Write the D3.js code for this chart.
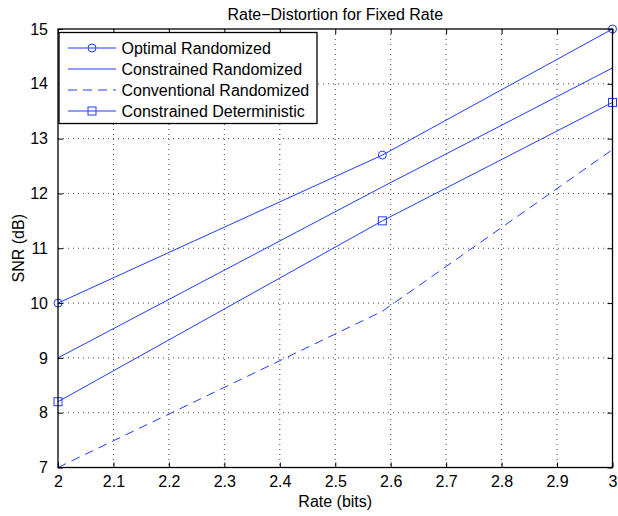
<!DOCTYPE html>
<html>
<head>
<meta charset="utf-8">
<script src="https://cdn.jsdelivr.net/npm/d3@7"></script>
<style>
    body { margin: 0; background: #fff; }
    svg text { font-family: "Liberation Sans", Arial, Helvetica, sans-serif; fill: #000; }
</style>
</head>
<body>
<svg id="SvgContainer"></svg>
<script>
// rate values (bits) = log2(4), log2(6), log2(8)
var rates = [2, Math.log2(6), 3];

var optimalRandomized = [10, 12.7, 15];
var constrainedRandomized = [9, 12.12, 14.29];
var conventionalRandomized = [7, 9.85, 12.8];
var constrainedDeterministic = [8.2, 11.5, 13.66];

var seriesNames = ["Optimal Randomized", "Constrained Randomized", "Conventional Randomized", "Constrained Deterministic"];
var xTicks = [2, 2.1, 2.2, 2.3, 2.4, 2.5, 2.6, 2.7, 2.8, 2.9, 3];
var yTicks = [7, 8, 9, 10, 11, 12, 13, 14, 15];

var width = 618;
var height = 516;
var plotLeft = 58, plotRight = 612.5, plotTop = 29, plotBottom = 467.5;
var lineColor = "#1f3dff";
var fontSize = 16;

var svg = d3.select("svg")
    .attr("width", width)
    .attr("height", height);

var x = d3.scaleLinear().domain([2, 3]).range([plotLeft, plotRight]);
var y = d3.scaleLinear().domain([7, 15]).range([plotBottom, plotTop]);

// grid
svg.append("g")
    .selectAll("line")
    .data(xTicks.slice(1, -1))
    .enter()
    .append("line")
    .attr("x1", function (d) { return x(d); })
    .attr("x2", function (d) { return x(d); })
    .attr("y1", plotTop)
    .attr("y2", plotBottom)
    .attr("stroke", "#444")
    .attr("stroke-width", 1)
    .attr("stroke-dasharray", "1,4");

svg.append("g")
    .selectAll("line")
    .data(yTicks.slice(1, -1))
    .enter()
    .append("line")
    .attr("x1", plotLeft)
    .attr("x2", plotRight)
    .attr("y1", function (d) { return y(d); })
    .attr("y2", function (d) { return y(d); })
    .attr("stroke", "#444")
    .attr("stroke-width", 1)
    .attr("stroke-dasharray", "1,4");

// axes with inward ticks on all four sides
var tickLen = 5;
svg.append("g")
    .attr("transform", "translate(0," + plotBottom + ")")
    .call(d3.axisBottom(x).tickValues(xTicks).tickSizeInner(-tickLen).tickSizeOuter(0).tickPadding(8).tickFormat(d3.format("")))
    .call(function (g) { g.select(".domain").remove(); });

svg.append("g")
    .attr("transform", "translate(0," + plotTop + ")")
    .call(d3.axisTop(x).tickValues(xTicks).tickSizeInner(-tickLen).tickSizeOuter(0).tickFormat(""))
    .call(function (g) { g.select(".domain").remove(); });

svg.append("g")
    .attr("transform", "translate(" + plotLeft + ",0)")
    .call(d3.axisLeft(y).tickValues(yTicks).tickSizeInner(-tickLen).tickSizeOuter(0).tickPadding(10))
    .call(function (g) { g.select(".domain").remove(); });

svg.append("g")
    .attr("transform", "translate(" + plotRight + ",0)")
    .call(d3.axisRight(y).tickValues(yTicks).tickSizeInner(-tickLen).tickSizeOuter(0).tickFormat(""))
    .call(function (g) { g.select(".domain").remove(); });

svg.selectAll(".tick line").attr("stroke", "#000").attr("stroke-width", 1);
svg.selectAll(".tick text").attr("font-size", fontSize).attr("font-family", "Liberation Sans, Arial, sans-serif");

// data lines
var lineGen = d3.line()
    .x(function (d) { return x(d[0]); })
    .y(function (d) { return y(d[1]); });

var seriesData = [optimalRandomized, constrainedRandomized, conventionalRandomized, constrainedDeterministic];
var dashes = [null, null, "9,6", null];

seriesData.forEach(function (vals, i) {
    svg.append("path")
        .datum(d3.zip(rates, vals))
        .attr("fill", "none")
        .attr("stroke", lineColor)
        .attr("stroke-width", 1)
        .attr("stroke-dasharray", dashes[i])
        .attr("d", lineGen);
});

// markers
svg.append("g")
    .selectAll("circle")
    .data(d3.zip(rates, optimalRandomized))
    .enter()
    .append("circle")
    .attr("cx", function (d) { return x(d[0]); })
    .attr("cy", function (d) { return y(d[1]); })
    .attr("r", 4)
    .attr("fill", "none")
    .attr("stroke", lineColor);

svg.append("g")
    .selectAll("rect")
    .data(d3.zip(rates, constrainedDeterministic))
    .enter()
    .append("rect")
    .attr("x", function (d) { return x(d[0]) - 4; })
    .attr("y", function (d) { return y(d[1]) - 4; })
    .attr("width", 8)
    .attr("height", 8)
    .attr("fill", "none")
    .attr("stroke", lineColor);

// box
svg.append("rect")
    .attr("x", plotLeft)
    .attr("y", plotTop)
    .attr("width", plotRight - plotLeft)
    .attr("height", plotBottom - plotTop)
    .attr("fill", "none")
    .attr("stroke", "#000")
    .attr("stroke-width", 1.3);

// legend
var legend = svg.append("g").attr("transform", "translate(59,32.5)");
legend.append("rect")
    .attr("width", 258)
    .attr("height", 91)
    .attr("fill", "#fff")
    .attr("stroke", "#000")
    .attr("stroke-width", 1.3);

var rows = legend.selectAll(".LegendRow")
    .data(seriesNames)
    .enter()
    .append("g")
    .attr("class", "LegendRow")
    .attr("transform", function (d, i) { return "translate(0," + (15.5 + i * 21) + ")"; });

rows.append("line")
    .attr("x1", 9)
    .attr("x2", 57)
    .attr("stroke", lineColor)
    .attr("stroke-width", 1)
    .attr("stroke-dasharray", function (d, i) { return dashes[i]; });

rows.filter(function (d, i) { return i === 0; })
    .append("circle")
    .attr("cx", 33).attr("r", 4)
    .attr("fill", "none").attr("stroke", lineColor);

rows.filter(function (d, i) { return i === 3; })
    .append("rect")
    .attr("x", 29).attr("y", -4).attr("width", 8).attr("height", 8)
    .attr("fill", "none").attr("stroke", lineColor);

rows.append("text")
    .attr("x", 62.5)
    .attr("dy", "0.35em")
    .attr("font-size", fontSize)
    .text(function (d) { return d; });

// titles
svg.append("text")
    .attr("x", (plotLeft + plotRight) / 2)
    .attr("y", 20)
    .attr("text-anchor", "middle")
    .attr("font-size", fontSize)
    .text("Rate\u2212Distortion for Fixed Rate");

svg.append("text")
    .attr("x", (plotLeft + plotRight) / 2)
    .attr("y", 507)
    .attr("text-anchor", "middle")
    .attr("font-size", fontSize)
    .text("Rate (bits)");

svg.append("text")
    .attr("transform", "translate(24," + ((plotTop + plotBottom) / 2) + ") rotate(-90)")
    .attr("text-anchor", "middle")
    .attr("font-size", fontSize)
    .text("SNR (dB)");
</script>
</body>
</html>
